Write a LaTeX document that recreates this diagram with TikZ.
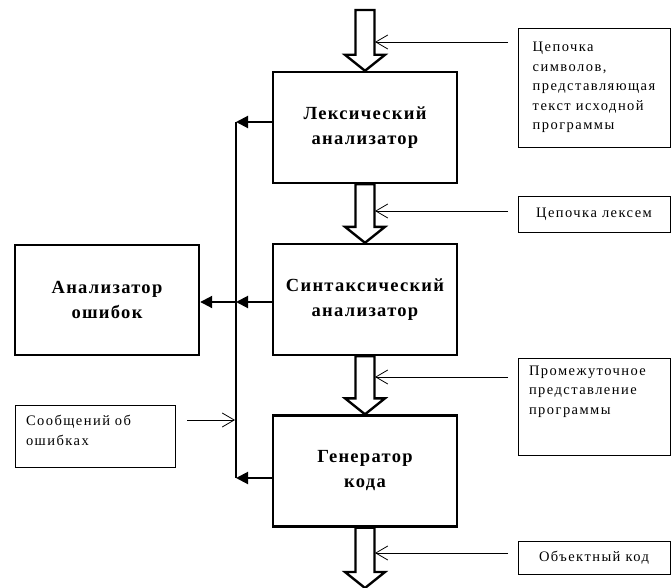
\documentclass[tikz,border=0pt]{standalone}
\usepackage{fontspec}
\setmainfont{Liberation Serif}
\usetikzlibrary{arrows.meta}

\begin{document}
\begin{tikzpicture}[
 x=1pt,y=-1pt,
 stage/.style={draw,line width=2.4pt,minimum width=184pt,minimum height=111pt,
  align=center,font=\fontsize{18.5}{25}\selectfont\bfseries\addfontfeature{LetterSpace=7}},
 note/.style={draw,line width=.8pt,minimum width=152pt,
  font=\fontsize{14.5}{19.5}\selectfont\addfontfeature{LetterSpace=10}},
 bus/.style={line width=2pt},
 busarr/.style={bus,-{Triangle[length=12pt,width=12pt]}},
 feed/.style={line width=.8pt,-{Straight Barb[length=12pt,width=14pt]}},
 blockarr/.style={line width=2.4pt,line join=miter}]
 \useasboundingbox (0,0) rectangle (671,588);
 % compiler stages
 \node[stage] (lex) at (365,127.5) {Лексический\\анализатор};
 \node[stage] (syn) at (365,299.5) {Синтаксический\\анализатор};
 \node[stage] (gen) at (365,471) {Генератор\\кода};
 \node[stage,minimum height=110pt] (err) at (107,300) {Анализатор\\ошибок};
 % data notes
 \node[note,minimum height=119pt,align=left] (src) at (594,87.5)
  {Цепочка\\символов,\\представляющая\\текст исходной\\программы};
 \node[note,minimum height=36pt] (lexm) at (594,214) {Цепочка лексем};
 \node[note,minimum height=97pt,text width=130pt,align=left] (ir) at (594,406.5)
  {Промежуточное\\представление\\программы\\[8pt]\strut};
 \node[note,minimum height=33pt] (obj) at (594,558) {Объектный код};
 \node[note,minimum width=160pt,minimum height=62pt,text width=138pt,align=left] (msg) at (95,436)
  {Сообщений об\\ошибках\\[-14pt]\strut};
 % wide flow arrows
 \coordinate (in) at (365,10); \coordinate (out) at (365,588);
 \foreach \from/\to in {in/lex.north,lex.south/syn.north,syn.south/gen.north,gen.south/out}{
  \draw[blockarr] ([xshift=-9.5pt]\from) -- ([xshift=-9.5pt,yshift=16pt]\to)
   -- ([xshift=-20pt,yshift=16pt]\to) -- (\to) -- ([xshift=20pt,yshift=16pt]\to)
   -- ([xshift=9.5pt,yshift=16pt]\to) -- ([xshift=9.5pt]\from) -- cycle;
 }
 % notes pointing at the flow
 \foreach \n/\y in {1/42,2/211,3/377,4/553}{
  \coordinate (t\n) at (508,\y); \coordinate (h\n) at (375,\y);
  \draw[feed] (t\n) -- (h\n);
 }
 % error bus
 \coordinate (bustop) at (236,122);
 \coordinate (busmid) at (236,302);
 \coordinate (busbot) at (236,478);
 \draw[bus] (bustop) -- (busbot);
 \draw[busarr] (lex.west |- bustop) -- (bustop);
 \draw[busarr] (syn.west |- busmid) -- (busmid);
 \draw[busarr] (busmid) -- (err.east |- busmid);
 \draw[busarr] (gen.west |- busbot) -- (busbot);
 \coordinate (mt) at (187,420); \coordinate (mh) at (235,420);
 \draw[feed] (mt) -- (mh);
\end{tikzpicture}
\end{document}
